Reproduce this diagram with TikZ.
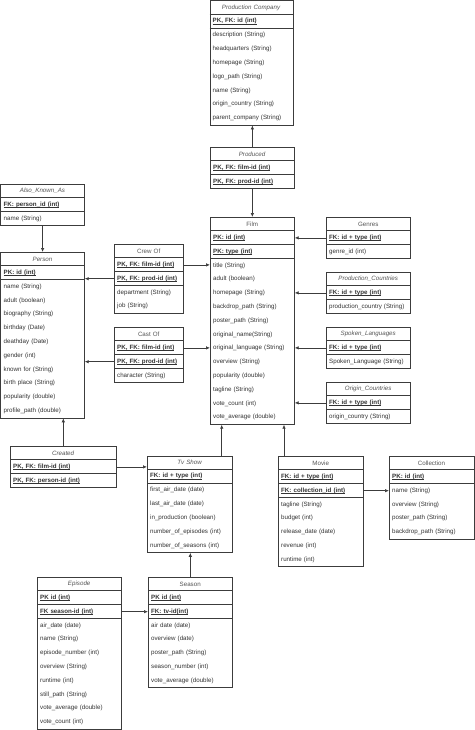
\documentclass[tikz,border=0pt]{standalone}
\usepackage{fontspec}
\setmainfont{Liberation Sans}
\usetikzlibrary{arrows.meta}
\definecolor{lnc}{HTML}{3C3C3C}
\definecolor{txc}{HTML}{333333}
\definecolor{ttc}{HTML}{555555}
\def\erh{13.8}
\newcommand{\keyul}[1]{\setbox0\hbox{#1}\rlap{\vrule height -0.9pt depth 1.4pt width \wd0}\box0}
\tikzset{
  erbox/.style={draw=lnc, line width=0.7pt, inner sep=0pt, fill=white},
  rowbase/.style={inner xsep=3pt, inner ysep=0pt, minimum height=13.8pt, text=txc, font=\fontsize{6.2}{7}\selectfont},
  trow/.style={rowbase, align=center, text=ttc},
  krow/.style={rowbase, align=left, font=\fontsize{6.2}{7}\selectfont\bfseries},
  arow/.style={rowbase, align=left},
  erline/.style={draw=lnc, line width=0.7pt},
  conn/.style={draw=lnc, line width=0.7pt, -{Latex[length=4pt,width=3.5pt]}},
}
% #1 name, #2 x, #3 y, #4 width, #5 title, #6 number of keys, #7 keys, #8 number of attributes, #9 attributes
\newcommand{\ertab}[9]{%
  \pgfmathsetmacro\tbh{(1+#6+#8)*\erh}%
  \pgfmathsetmacro\tw{#4-6}%
  \node[erbox, minimum width=#4pt, minimum height=\tbh pt, anchor=north west] (#1) at (#2,#3) {};
  \node[trow, text width=\tw pt, anchor=north west] (#1-t) at (#2,#3) {#5};
  \draw[erline] (#2,{#3+\erh}) -- ({#2+#4},{#3+\erh});
  \foreach \keyt [count=\ri] in {#7} {
    \node[krow, text width=\tw pt, anchor=north west] (#1-\ri) at (#2,{#3+\ri*\erh}) {\keyul{\keyt}};
    \draw[erline] (#2,{#3+(\ri+1)*\erh}) -- ({#2+#4},{#3+(\ri+1)*\erh});
  }
  \ifnum#8>0\relax
  \foreach \attt [count=\rj] in {#9} {
    \pgfmathtruncatemacro\idx{#6+\rj}
    \node[arow, text width=\tw pt, anchor=north west] (#1-\idx) at (#2,{#3+\idx*\erh}) {\attt};
  }
  \fi
}
\begin{document}
\begin{tikzpicture}[x=1pt,y=-1pt]
\useasboundingbox (0,0) rectangle (474,730);

\ertab{pc}{209.5}{0.5}{83}{\textit{Production Company}}{1}{{PK, FK: id (int)}}{7}{description (String),headquarters (String),homepage (String),logo\_path (String),name (String),origin\_country (String),parent\_company (String)}

\ertab{produced}{210}{147}{84}{\textit{Produced}}{2}{{PK, FK: film-id (int)},{PK, FK: prod-id (int)}}{0}{}

\ertab{aka}{0.5}{184}{83.5}{\textit{Also\_Known\_As}}{1}{{FK: person\_id (int)}}{1}{name (String)}

\ertab{person}{0.5}{252}{83.5}{\textit{Person}}{1}{{PK: id (int)}}{10}{name (String),adult (boolean),biography (String),birthday (Date),deathday (Date),gender (int),known for (String),birth place (String),popularity (double),profile\_path (double)}

\ertab{crew}{114}{244}{69}{Crew Of}{2}{{PK, FK: film-id (int)},{PK, FK: prod-id (int)}}{2}{department (String),job (String)}

\ertab{cast}{114}{327}{69}{Cast Of}{2}{{PK, FK: film-id (int)},{PK, FK: prod-id (int)}}{1}{character (String)}

\ertab{film}{210}{217}{84}{Film}{2}{{PK: id (int)},{PK: type (int)}}{12}{title (String),adult (boolean),homepage (String),backdrop\_path (String),poster\_path (String),original\_name(String),original\_language (String),overview (String),popularity (double),tagline (String),vote\_count (int),vote\_average (double)}

\ertab{genres}{326}{217}{84}{Genres}{1}{{FK: id + type (int)}}{1}{genre\_id (int)}

\ertab{prodc}{326}{272}{84}{\textit{Production\_Countries}}{1}{{FK: id + type (int)}}{1}{production\_country (String)}

\ertab{spoken}{326}{327}{84}{\textit{Spoken\_Languages}}{1}{{FK: id + type (int)}}{1}{Spoken\_Language (String)}

\ertab{origin}{326}{382}{84}{\textit{Origin\_Countries}}{1}{{FK: id + type (int)}}{1}{origin\_country (String)}

\ertab{created}{10}{446}{106}{\textit{Created}}{2}{{PK, FK: film-id (int)},{PK, FK: person-id (int)}}{0}{}

\ertab{tv}{147}{455.5}{85}{\textit{Tv Show}}{1}{{FK: id + type (int)}}{5}{first\_air\_date (date),last\_air\_date (date),in\_production (boolean),number\_of\_episodes (int),number\_of\_seasons (int)}

\ertab{movie}{278}{456}{85}{Movie}{2}{{FK: id + type (int)},{FK: collection\_id (int)}}{5}{tagline (String),budget (int),release\_date (date),revenue (int),runtime (int)}

\ertab{coll}{389}{456}{84.5}{Collection}{1}{{PK: id (int)}}{4}{name (String),overview (String),poster\_path (String),backdrop\_path (String)}

\ertab{episode}{37}{577}{84}{\textit{Episode}}{2}{{PK id (int)},{FK season-id (int)}}{8}{air\_date (date),name (String),episode\_number (int),overview (String),runtime (int),still\_path (String),vote\_average (double),vote\_count  (int)}

\ertab{season}{148}{577}{84}{Season}{2}{{PK id (int)},{FK: tv-id(int)}}{5}{air date (date),overview (date),poster\_path (String),season\_number (int),vote\_average (double)}

% connectors
\draw[conn] (produced.north) -- (produced.north |- pc.south);
\draw[conn] (produced.south) -- (produced.south |- film.north);
\draw[conn] (aka.south) -- (aka.south |- person.north);
\draw[conn] (crew-2.west) -- (crew-2.west -| person.east);
\draw[conn] (crew-1.east) -- (crew-1.east -| film.west);
\draw[conn] (cast-2.west) -- (cast-2.west -| person.east);
\draw[conn] (cast-1.east) -- (cast-1.east -| film.west);
\draw[conn] (genres-1.west) -- (genres-1.west -| film.east);
\draw[conn] (prodc-1.west) -- (prodc-1.west -| film.east);
\draw[conn] (spoken-1.west) -- (spoken-1.west -| film.east);
\draw[conn] (origin-1.west) -- (origin-1.west -| film.east);
\draw[conn] (created.north) -- (created.north |- person.south);
\draw[conn] (created-1.east) -- (created-1.east -| tv.west);
\coordinate (tvup) at ([xshift=-11pt]tv.north east);
\draw[conn] (tvup) -- (tvup |- film.south);
\coordinate (mvup) at ([xshift=6pt]movie.north west);
\draw[conn] (mvup) -- (mvup |- film.south);
\draw[conn] (movie-2.east) -- (movie-2.east -| coll.west);
\draw[conn] (season.north) -- (season.north |- tv.south);
\draw[conn] (episode-2.east) -- (episode-2.east -| season.west);
\end{tikzpicture}
\end{document}
